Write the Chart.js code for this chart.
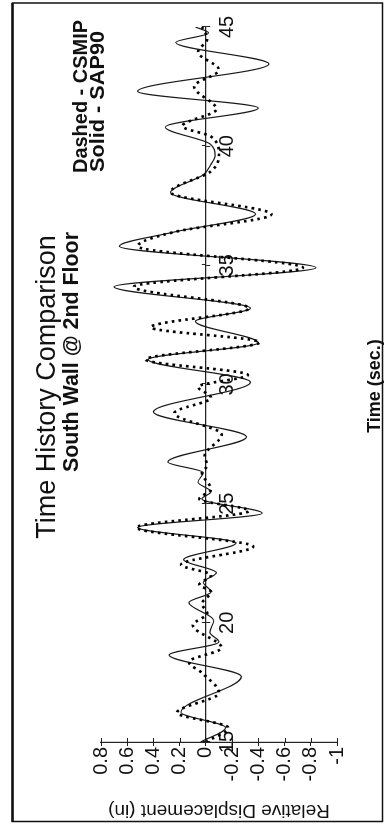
<!DOCTYPE html>
<html><head><meta charset="utf-8">
<script src="https://cdn.jsdelivr.net/npm/chart.js@4/dist/chart.umd.min.js"></script>
<style>
html,body{margin:0;padding:0;background:#fff;overflow:hidden;width:385px;height:824px;}
#wrap{position:absolute;left:0;top:0;width:824px;height:385px;transform-origin:0 0;transform:translateY(824px) rotate(-90deg);}
canvas{display:block;}
</style></head><body>
<div id="wrap"><canvas id="c" width="824" height="385"></canvas></div>
<script>
// ---- data (time in s, relative displacement in inches) ----
const sapTime = [15.0,15.6,16.25,17.75,18.65,19.2,19.6,20.1,20.85,21.3,21.7,22.1,22.65,23.35,24.0,24.6,25.2,25.5,25.9,26.3,26.75,27.8,28.85,30.1,31.05,31.75,32.65,33.2,34.1,34.9,35.8,36.4,37.15,38.05,38.8,39.25,39.6,40.1,40.8,41.6,42.3,43.45,44.35,44.75,45.0];
const sapDisp = [0.04,-0.15,0.19,-0.27,0.28,-0.10,-0.03,-0.06,0.13,-0.04,0.02,-0.08,0.17,-0.23,0.52,-0.43,0.03,-0.04,0.06,0.02,0.29,-0.31,0.40,-0.34,0.44,-0.40,0.08,-0.34,0.70,-0.84,0.66,0.24,-0.38,0.27,0.02,-0.04,-0.07,-0.03,0.31,-0.40,0.52,-0.48,0.23,-0.02,0.08];
const csmipTime = [15.0,15.6,16.23,17.06,17.9,18.36,18.95,19.9,20.4,20.8,21.3,21.6,22.0,22.44,23.2,24.0,24.7,25.2,25.6,26.3,26.6,27.0,27.9,28.8,29.45,29.9,30.4,31.05,31.77,32.4,33.2,34.1,34.9,35.8,36.4,37.14,38.07,38.95,39.65,40.4,40.84,41.55,42.5,43.2,43.95,44.5,45.0];
const csmipDisp = [0.0,-0.17,0.22,-0.10,0.03,0.13,-0.12,0.10,-0.01,0.03,-0.04,0.05,-0.04,0.19,-0.36,0.53,-0.33,0.05,-0.04,0.03,-0.01,0.01,-0.12,0.24,-0.04,0.06,-0.32,0.46,-0.41,0.42,-0.33,0.55,-0.74,0.52,0.24,-0.50,0.27,-0.04,-0.10,-0.04,0.18,-0.08,0.09,-0.10,0.06,-0.01,0.03];
const timeTicks = [15,20,25,30,35,40,45];
const dispTicks = [0.8,0.6,0.4,0.2,0,-0.2,-0.4,-0.6,-0.8,-1];
const titleText = 'Time History Comparison';
const subtitleText = 'South Wall @ 2nd Floor';
const legendLines = ['Dashed - CSMIP','Solid - SAP90'];
const xTitle = 'Time (sec.)';
const yTitle = 'Relative Displacement (in)';

const FAM = "'Liberation Sans', Arial, sans-serif";
Chart.defaults.font.family = FAM;
Chart.defaults.color = '#111';

// draw text squeezed/stretched horizontally to a target width
function fitText(ctx, txt, x, y, w, align) {
  const mw = ctx.measureText(txt).width;
  const k = w / mw;
  ctx.save();
  let ox = x;
  if (align === 'center') ox = x - w / 2;
  ctx.translate(ox, y); ctx.scale(k, 1);
  ctx.textAlign = 'left';
  ctx.fillText(txt, 0, 0);
  ctx.restore();
}

const decor = {
  id: 'decor',
  afterDraw(chart) {
    const ctx = chart.ctx, xs = chart.scales.x, ys = chart.scales.y;
    ctx.save();
    ctx.strokeStyle = '#222'; ctx.lineWidth = 1;
    const y0 = ys.getPixelForValue(0);
    timeTicks.forEach(t => { const px = Math.round(xs.getPixelForValue(t)) + 0.5; ctx.beginPath(); ctx.moveTo(px, y0 - 4); ctx.lineTo(px, y0); ctx.stroke(); });
    const xl = chart.chartArea.left;
    dispTicks.forEach(v => { const py = Math.round(ys.getPixelForValue(v)) + 0.5; ctx.beginPath(); ctx.moveTo(xl, py); ctx.lineTo(xl + 4, py); ctx.stroke(); });
    // frame
    ctx.strokeStyle = '#111';
    ctx.lineWidth = 1.5; ctx.strokeRect(2.5, 12.5, 818.5, 370);
    ctx.lineWidth = 2.5; ctx.beginPath(); ctx.moveTo(2, 12.5); ctx.lineTo(821, 12.5); ctx.stroke();
    // texts
    ctx.fillStyle = '#111'; ctx.textBaseline = 'alphabetic';
    ctx.textAlign = 'center';
    ctx.font = "27px " + FAM; ctx.fillText(titleText, 437, 55);
    ctx.font = "bold 22px " + FAM; fitText(ctx, subtitleText, 472, 78, 240, 'center');
    ctx.font = "bold 20px " + FAM;
    fitText(ctx, legendLines[0], 651, 87, 153, 'left');
    fitText(ctx, legendLines[1], 652, 104, 141, 'left');
    ctx.textAlign = 'center';
    ctx.font = "bold 18px " + FAM; ctx.fillText(xTitle, 438, 380);
    ctx.save(); ctx.translate(19, 219); ctx.rotate(-Math.PI / 2);
    ctx.textAlign = 'center';
    ctx.font = "19px " + FAM; ctx.fillText(yTitle, 0, 0); ctx.restore();
    ctx.restore();
  }
};

new Chart(document.getElementById('c'), {
  type: 'line',
  data: {
    datasets: [
      { label: 'CSMIP', data: csmipTime.map((t, i) => ({ x: t, y: csmipDisp[i] })),
        borderColor: '#000', borderWidth: 2.7, borderDash: [2.6, 4.2], pointRadius: 0,
        cubicInterpolationMode: 'monotone', fill: false },
      { label: 'SAP90', data: sapTime.map((t, i) => ({ x: t, y: sapDisp[i] })),
        borderColor: '#1a1a1a', borderWidth: 1.2, pointRadius: 0,
        cubicInterpolationMode: 'monotone', fill: false }
    ]
  },
  options: {
    responsive: false, animation: false, devicePixelRatio: 1,
    layout: { padding: { top: 101, right: 27, bottom: 48, left: 0 } },
    plugins: { legend: { display: false }, tooltip: { enabled: false }, title: { display: false } },
    scales: {
      x: {
        type: 'linear', min: 15, max: 45, position: { y: 0 },
        afterBuildTicks: s => { s.ticks = timeTicks.map(v => ({ value: v })); },
        afterFit: s => { s.paddingLeft = 0; s.paddingRight = 0; },
        grid: { drawOnChartArea: false, tickLength: 4, color: '#222' },
        border: { color: '#222', width: 1.2 },
        ticks: { padding: 6, font: { size: 20 }, color: '#111', maxRotation: 0, autoSkip: false, callback: v => String(v) }
      },
      y: {
        type: 'linear', min: -1, max: 0.8, position: 'left',
        afterBuildTicks: s => { s.ticks = dispTicks.map(v => ({ value: v })); },
        afterFit: s => { s.width = 82; },
        grid: { drawOnChartArea: false, tickLength: 4, color: '#222' },
        border: { color: '#222', width: 1.2 },
        ticks: { padding: 1, font: { size: 20 }, color: '#111', autoSkip: false, callback: v => String(v) }
      }
    }
  },
  plugins: [decor]
});
</script>
</body></html>
